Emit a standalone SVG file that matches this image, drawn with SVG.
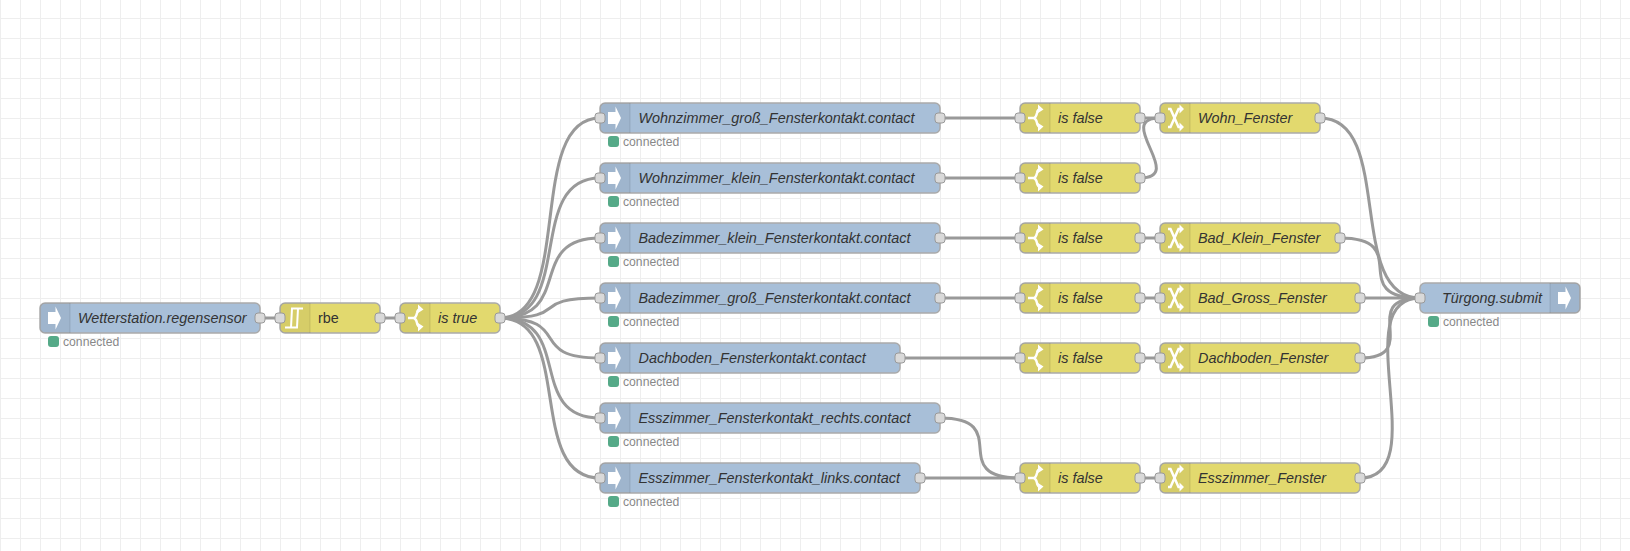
<svg xmlns="http://www.w3.org/2000/svg" width="1630" height="551" viewBox="0 0 1630 551">
<style>
.wire{fill:none;stroke:#999;stroke-width:3}
.body{stroke:#aaa;stroke-width:1.5}
.blue{fill:#a8bfd8}
.yellow{fill:#e2d96e}
.shade{fill:#000;fill-opacity:.05}
.sep{stroke:#000;stroke-opacity:.1;stroke-width:1}
.port{fill:#d9d9d9;stroke:#999;stroke-width:1}
.lbl{font-family:"Liberation Sans",Arial,sans-serif;font-size:14.4px;font-style:italic;fill:#333}
.plain{font-style:normal}
.st{font-family:"Liberation Sans",Arial,sans-serif;font-size:12.2px;fill:#888}
.dot{fill:#5a8;stroke:#5a8;stroke-width:2}
.ico{fill:none;stroke:#fff;stroke-width:2.500}
</style>
<defs>
<pattern id="grid" x="0" y="18" width="20" height="20" patternUnits="userSpaceOnUse">
<rect width="20" height="1" fill="#eee"/><rect width="1" height="20" fill="#eee"/>
</pattern>
<g id="arrow"><path d="M0 -6H7.500V-11.500L13 0L7.500 11.500V6H0Z" fill="#fff"/></g>
<g id="sw"><path class="ico" d="M0 0H5C8 0 8.500 -3 9 -5C9.500 -8 11 -9 13 -9M5 0C8 0 8.500 3 9 5C9.500 8 11 9 13 9"/><path d="M10 -13.500L15.500 -8.500L10 -5ZM10 13.500L15.500 8.500L10 5Z" fill="#fff"/></g>
<g id="ch"><path class="ico" d="M0 -9H2.500L10.500 9H13M0 9H2.500L10.500 -9H13"/><path d="M11.500 -13.500L16 -9L11.500 -4.500ZM11.500 13.500L16 9L11.500 4.500Z" fill="#fff"/></g>
<g id="rb"><path fill="none" stroke="#fff" stroke-width="2" d="M0 9.500H12L13 -9.500M6 9.500L7 -9.500H18"/></g>
</defs>
<rect width="1630" height="551" fill="#fff"/>
<rect width="1630" height="551" fill="url(#grid)"/>
<g id="connectors">
<path class="wire" d="M260 318H280"/>
<path class="wire" d="M380 318H400"/>
<path class="wire" d="M500 318C575 318 525 118 600 118"/>
<path class="wire" d="M500 318C575 318 525 178 600 178"/>
<path class="wire" d="M500 318C575 318 525 238 600 238"/>
<path class="wire" d="M500 318C575 318 525 298 600 298"/>
<path class="wire" d="M500 318C575 318 525 358 600 358"/>
<path class="wire" d="M500 318C575 318 525 418 600 418"/>
<path class="wire" d="M500 318C575 318 525 478 600 478"/>
<path class="wire" d="M940 118H1020"/>
<path class="wire" d="M940 178H1020"/>
<path class="wire" d="M940 238H1020"/>
<path class="wire" d="M940 298H1020"/>
<path class="wire" d="M900 358H1020"/>
<path class="wire" d="M940 418C1015 418 945 478 1020 478"/>
<path class="wire" d="M920 478H1020"/>
<path class="wire" d="M1140 118H1160"/>
<path class="wire" d="M1140 178C1187 178 1113 118 1160 118"/>
<path class="wire" d="M1140 238H1160"/>
<path class="wire" d="M1140 298H1160"/>
<path class="wire" d="M1140 358H1160"/>
<path class="wire" d="M1140 478H1160"/>
<path class="wire" d="M1320 118C1395 118 1345 298 1420 298"/>
<path class="wire" d="M1340 238C1415 238 1345 298 1420 298"/>
<path class="wire" d="M1360 298H1420"/>
<path class="wire" d="M1360 358C1423.600 358 1356.400 298 1420 298"/>
<path class="wire" d="M1360 478C1435 478 1345 298 1420 298"/>
</g>
<g id="n-wetter">
<rect class="body blue" x="40" y="303" width="220" height="30" rx="5"/>
<path class="shade" d="M45 303H70V333H45A5 5 0 0 1 40 328V308A5 5 0 0 1 45 303Z"/><path class="sep" d="M70 303V333"/>
<use href="#arrow" x="48" y="318"/>
<text class="lbl" x="78" y="323">Wetterstation.regensensor</text>
<rect class="port" x="255" y="313" width="10" height="10" rx="3"/>
<rect class="dot" x="49" y="337" width="9" height="9" rx="2"/><text class="st" x="63" y="346">connected</text>
</g>
<g id="n-rbe">
<rect class="body yellow" x="280" y="303" width="100" height="30" rx="5"/>
<path class="shade" d="M285 303H310V333H285A5 5 0 0 1 280 328V308A5 5 0 0 1 285 303Z"/><path class="sep" d="M310 303V333"/>
<use href="#rb" x="285" y="318"/>
<text class="lbl plain" x="318" y="323">rbe</text>
<rect class="port" x="275" y="313" width="10" height="10" rx="3"/><rect class="port" x="375" y="313" width="10" height="10" rx="3"/>
</g>
<g id="n-istrue">
<rect class="body yellow" x="400" y="303" width="100" height="30" rx="5"/>
<path class="shade" d="M405 303H430V333H405A5 5 0 0 1 400 328V308A5 5 0 0 1 405 303Z"/><path class="sep" d="M430 303V333"/>
<use href="#sw" x="408" y="318"/>
<text class="lbl" x="438" y="323">is true</text>
<rect class="port" x="395" y="313" width="10" height="10" rx="3"/><rect class="port" x="495" y="313" width="10" height="10" rx="3"/>
</g>
<g id="n-wohn-gross">
<rect class="body blue" x="600" y="103" width="340" height="30" rx="5"/>
<path class="shade" d="M605 103H630V133H605A5 5 0 0 1 600 128V108A5 5 0 0 1 605 103Z"/><path class="sep" d="M630 103V133"/>
<use href="#arrow" x="608" y="118"/>
<text class="lbl" x="638.500" y="123">Wohnzimmer_groß_Fensterkontakt.contact</text>
<rect class="port" x="595" y="113" width="10" height="10" rx="3"/><rect class="port" x="935" y="113" width="10" height="10" rx="3"/>
<rect class="dot" x="609" y="137" width="9" height="9" rx="2"/><text class="st" x="623" y="146">connected</text>
</g>
<g id="n-wohn-klein">
<rect class="body blue" x="600" y="163" width="340" height="30" rx="5"/>
<path class="shade" d="M605 163H630V193H605A5 5 0 0 1 600 188V168A5 5 0 0 1 605 163Z"/><path class="sep" d="M630 163V193"/>
<use href="#arrow" x="608" y="178"/>
<text class="lbl" x="638.500" y="183">Wohnzimmer_klein_Fensterkontakt.contact</text>
<rect class="port" x="595" y="173" width="10" height="10" rx="3"/><rect class="port" x="935" y="173" width="10" height="10" rx="3"/>
<rect class="dot" x="609" y="197" width="9" height="9" rx="2"/><text class="st" x="623" y="206">connected</text>
</g>
<g id="n-bad-klein">
<rect class="body blue" x="600" y="223" width="340" height="30" rx="5"/>
<path class="shade" d="M605 223H630V253H605A5 5 0 0 1 600 248V228A5 5 0 0 1 605 223Z"/><path class="sep" d="M630 223V253"/>
<use href="#arrow" x="608" y="238"/>
<text class="lbl" x="638.500" y="243">Badezimmer_klein_Fensterkontakt.contact</text>
<rect class="port" x="595" y="233" width="10" height="10" rx="3"/><rect class="port" x="935" y="233" width="10" height="10" rx="3"/>
<rect class="dot" x="609" y="257" width="9" height="9" rx="2"/><text class="st" x="623" y="266">connected</text>
</g>
<g id="n-bad-gross">
<rect class="body blue" x="600" y="283" width="340" height="30" rx="5"/>
<path class="shade" d="M605 283H630V313H605A5 5 0 0 1 600 308V288A5 5 0 0 1 605 283Z"/><path class="sep" d="M630 283V313"/>
<use href="#arrow" x="608" y="298"/>
<text class="lbl" x="638.500" y="303">Badezimmer_groß_Fensterkontakt.contact</text>
<rect class="port" x="595" y="293" width="10" height="10" rx="3"/><rect class="port" x="935" y="293" width="10" height="10" rx="3"/>
<rect class="dot" x="609" y="317" width="9" height="9" rx="2"/><text class="st" x="623" y="326">connected</text>
</g>
<g id="n-dach">
<rect class="body blue" x="600" y="343" width="300" height="30" rx="5"/>
<path class="shade" d="M605 343H630V373H605A5 5 0 0 1 600 368V348A5 5 0 0 1 605 343Z"/><path class="sep" d="M630 343V373"/>
<use href="#arrow" x="608" y="358"/>
<text class="lbl" x="638.500" y="363">Dachboden_Fensterkontakt.contact</text>
<rect class="port" x="595" y="353" width="10" height="10" rx="3"/><rect class="port" x="895" y="353" width="10" height="10" rx="3"/>
<rect class="dot" x="609" y="377" width="9" height="9" rx="2"/><text class="st" x="623" y="386">connected</text>
</g>
<g id="n-ess-rechts">
<rect class="body blue" x="600" y="403" width="340" height="30" rx="5"/>
<path class="shade" d="M605 403H630V433H605A5 5 0 0 1 600 428V408A5 5 0 0 1 605 403Z"/><path class="sep" d="M630 403V433"/>
<use href="#arrow" x="608" y="418"/>
<text class="lbl" x="638.500" y="423">Esszimmer_Fensterkontakt_rechts.contact</text>
<rect class="port" x="595" y="413" width="10" height="10" rx="3"/><rect class="port" x="935" y="413" width="10" height="10" rx="3"/>
<rect class="dot" x="609" y="437" width="9" height="9" rx="2"/><text class="st" x="623" y="446">connected</text>
</g>
<g id="n-ess-links">
<rect class="body blue" x="600" y="463" width="320" height="30" rx="5"/>
<path class="shade" d="M605 463H630V493H605A5 5 0 0 1 600 488V468A5 5 0 0 1 605 463Z"/><path class="sep" d="M630 463V493"/>
<use href="#arrow" x="608" y="478"/>
<text class="lbl" x="638.500" y="483">Esszimmer_Fensterkontakt_links.contact</text>
<rect class="port" x="595" y="473" width="10" height="10" rx="3"/><rect class="port" x="915" y="473" width="10" height="10" rx="3"/>
<rect class="dot" x="609" y="497" width="9" height="9" rx="2"/><text class="st" x="623" y="506">connected</text>
</g>
<g id="n-sw1">
<rect class="body yellow" x="1020" y="103" width="120" height="30" rx="5"/>
<path class="shade" d="M1025 103H1050V133H1025A5 5 0 0 1 1020 128V108A5 5 0 0 1 1025 103Z"/><path class="sep" d="M1050 103V133"/>
<use href="#sw" x="1028" y="118"/>
<text class="lbl" x="1058" y="123">is false</text>
<rect class="port" x="1015" y="113" width="10" height="10" rx="3"/><rect class="port" x="1135" y="113" width="10" height="10" rx="3"/>
</g>
<g id="n-sw2">
<rect class="body yellow" x="1020" y="163" width="120" height="30" rx="5"/>
<path class="shade" d="M1025 163H1050V193H1025A5 5 0 0 1 1020 188V168A5 5 0 0 1 1025 163Z"/><path class="sep" d="M1050 163V193"/>
<use href="#sw" x="1028" y="178"/>
<text class="lbl" x="1058" y="183">is false</text>
<rect class="port" x="1015" y="173" width="10" height="10" rx="3"/><rect class="port" x="1135" y="173" width="10" height="10" rx="3"/>
</g>
<g id="n-sw3">
<rect class="body yellow" x="1020" y="223" width="120" height="30" rx="5"/>
<path class="shade" d="M1025 223H1050V253H1025A5 5 0 0 1 1020 248V228A5 5 0 0 1 1025 223Z"/><path class="sep" d="M1050 223V253"/>
<use href="#sw" x="1028" y="238"/>
<text class="lbl" x="1058" y="243">is false</text>
<rect class="port" x="1015" y="233" width="10" height="10" rx="3"/><rect class="port" x="1135" y="233" width="10" height="10" rx="3"/>
</g>
<g id="n-sw4">
<rect class="body yellow" x="1020" y="283" width="120" height="30" rx="5"/>
<path class="shade" d="M1025 283H1050V313H1025A5 5 0 0 1 1020 308V288A5 5 0 0 1 1025 283Z"/><path class="sep" d="M1050 283V313"/>
<use href="#sw" x="1028" y="298"/>
<text class="lbl" x="1058" y="303">is false</text>
<rect class="port" x="1015" y="293" width="10" height="10" rx="3"/><rect class="port" x="1135" y="293" width="10" height="10" rx="3"/>
</g>
<g id="n-sw5">
<rect class="body yellow" x="1020" y="343" width="120" height="30" rx="5"/>
<path class="shade" d="M1025 343H1050V373H1025A5 5 0 0 1 1020 368V348A5 5 0 0 1 1025 343Z"/><path class="sep" d="M1050 343V373"/>
<use href="#sw" x="1028" y="358"/>
<text class="lbl" x="1058" y="363">is false</text>
<rect class="port" x="1015" y="353" width="10" height="10" rx="3"/><rect class="port" x="1135" y="353" width="10" height="10" rx="3"/>
</g>
<g id="n-sw6">
<rect class="body yellow" x="1020" y="463" width="120" height="30" rx="5"/>
<path class="shade" d="M1025 463H1050V493H1025A5 5 0 0 1 1020 488V468A5 5 0 0 1 1025 463Z"/><path class="sep" d="M1050 463V493"/>
<use href="#sw" x="1028" y="478"/>
<text class="lbl" x="1058" y="483">is false</text>
<rect class="port" x="1015" y="473" width="10" height="10" rx="3"/><rect class="port" x="1135" y="473" width="10" height="10" rx="3"/>
</g>
<g id="n-ch-wohn">
<rect class="body yellow" x="1160" y="103" width="160" height="30" rx="5"/>
<path class="shade" d="M1165 103H1190V133H1165A5 5 0 0 1 1160 128V108A5 5 0 0 1 1165 103Z"/><path class="sep" d="M1190 103V133"/>
<use href="#ch" x="1168" y="118"/>
<text class="lbl" x="1198" y="123">Wohn_Fenster</text>
<rect class="port" x="1155" y="113" width="10" height="10" rx="3"/><rect class="port" x="1315" y="113" width="10" height="10" rx="3"/>
</g>
<g id="n-ch-badk">
<rect class="body yellow" x="1160" y="223" width="180" height="30" rx="5"/>
<path class="shade" d="M1165 223H1190V253H1165A5 5 0 0 1 1160 248V228A5 5 0 0 1 1165 223Z"/><path class="sep" d="M1190 223V253"/>
<use href="#ch" x="1168" y="238"/>
<text class="lbl" x="1198" y="243">Bad_Klein_Fenster</text>
<rect class="port" x="1155" y="233" width="10" height="10" rx="3"/><rect class="port" x="1335" y="233" width="10" height="10" rx="3"/>
</g>
<g id="n-ch-badg">
<rect class="body yellow" x="1160" y="283" width="200" height="30" rx="5"/>
<path class="shade" d="M1165 283H1190V313H1165A5 5 0 0 1 1160 308V288A5 5 0 0 1 1165 283Z"/><path class="sep" d="M1190 283V313"/>
<use href="#ch" x="1168" y="298"/>
<text class="lbl" x="1198" y="303">Bad_Gross_Fenster</text>
<rect class="port" x="1155" y="293" width="10" height="10" rx="3"/><rect class="port" x="1355" y="293" width="10" height="10" rx="3"/>
</g>
<g id="n-ch-dach">
<rect class="body yellow" x="1160" y="343" width="200" height="30" rx="5"/>
<path class="shade" d="M1165 343H1190V373H1165A5 5 0 0 1 1160 368V348A5 5 0 0 1 1165 343Z"/><path class="sep" d="M1190 343V373"/>
<use href="#ch" x="1168" y="358"/>
<text class="lbl" x="1198" y="363">Dachboden_Fenster</text>
<rect class="port" x="1155" y="353" width="10" height="10" rx="3"/><rect class="port" x="1355" y="353" width="10" height="10" rx="3"/>
</g>
<g id="n-ch-ess">
<rect class="body yellow" x="1160" y="463" width="200" height="30" rx="5"/>
<path class="shade" d="M1165 463H1190V493H1165A5 5 0 0 1 1160 488V468A5 5 0 0 1 1165 463Z"/><path class="sep" d="M1190 463V493"/>
<use href="#ch" x="1168" y="478"/>
<text class="lbl" x="1198" y="483">Esszimmer_Fenster</text>
<rect class="port" x="1155" y="473" width="10" height="10" rx="3"/><rect class="port" x="1355" y="473" width="10" height="10" rx="3"/>
</g>
<g id="n-tuergong">
<rect class="body blue" x="1420" y="283" width="160" height="30" rx="5"/>
<path class="shade" d="M1550 283H1575A5 5 0 0 1 1580 288V308A5 5 0 0 1 1575 313H1550Z"/><path class="sep" d="M1550 283V313"/>
<use href="#arrow" x="1558" y="298"/>
<text class="lbl" x="1542" y="303" text-anchor="end">Türgong.submit</text>
<rect class="port" x="1415" y="293" width="10" height="10" rx="3"/>
<rect class="dot" x="1429" y="317" width="9" height="9" rx="2"/><text class="st" x="1443" y="326">connected</text>
</g>
</svg>
